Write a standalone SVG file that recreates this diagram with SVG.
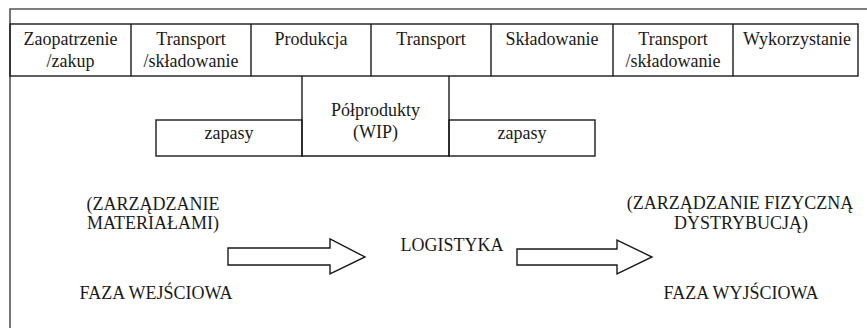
<svg xmlns="http://www.w3.org/2000/svg" width="867" height="328" viewBox="0 0 867 328">
<style>
.ln{fill:none;stroke:#1a1a1a;stroke-width:1.4}
.fr{fill:none;stroke:#555;stroke-width:1.6}
text{font-family:"Liberation Serif","Times New Roman",serif;font-size:18px;fill:#1a1a1a;text-anchor:middle}
.l{text-anchor:start}
</style>
<rect width="867" height="328" fill="#fff"/>
<g id="frame"><path class="fr" d="M10,330 V9 H870"/></g>
<g id="row">
<rect class="ln" x="10" y="24" width="848" height="52"/>
<path class="ln" d="M131,24V76M251,24V76M371,24V76M491,24V76M613,24V76M733,24V76"/>
</g>
<g id="n-zaopatrzenie"><text x="70.5" y="45">Zaopatrzenie</text><text x="70.5" y="67">/zakup</text></g>
<g id="n-transport1"><text x="191" y="45">Transport</text><text x="191" y="67">/składowanie</text></g>
<g id="n-produkcja"><text x="311" y="45">Produkcja</text></g>
<g id="n-transport2"><text x="431" y="45">Transport</text></g>
<g id="n-skladowanie"><text x="552" y="45">Składowanie</text></g>
<g id="n-transport3"><text x="673" y="45">Transport</text><text x="673" y="67">/składowanie</text></g>
<g id="n-wykorzystanie"><text x="797" y="45">Wykorzystanie</text></g>
<g id="n-polprodukty">
<path class="ln" d="M302,76V156H449V76"/>
<text x="375.5" y="116">Półprodukty</text><text x="375.5" y="138">(WIP)</text>
</g>
<g id="n-zapasy1"><rect class="ln" x="156" y="120" width="146" height="36"/><text x="229" y="139">zapasy</text></g>
<g id="n-zapasy2"><rect class="ln" x="449" y="120" width="146" height="36"/><text x="522" y="139">zapasy</text></g>
<g id="n-wejscie">
<text x="153" y="210">(ZARZĄDZANIE</text><text x="153" y="229">MATERIAŁAMI)</text>
<text x="156" y="299">FAZA WEJŚCIOWA</text>
</g>
<g id="n-logistyka"><text x="452" y="251">LOGISTYKA</text></g>
<g id="n-wyjscie">
<text x="740" y="209">(ZARZĄDZANIE FIZYCZNĄ</text><text x="741" y="229">DYSTRYBUCJĄ)</text>
<text x="741" y="299">FAZA WYJŚCIOWA</text>
</g>
<g id="connectors">
<path class="ln" d="M228,248H330V239L365,257L330,274V265H228Z"/>
<path class="ln" d="M517,249H617V240L652,257L617,274V265H517Z"/>
</g>
</svg>
